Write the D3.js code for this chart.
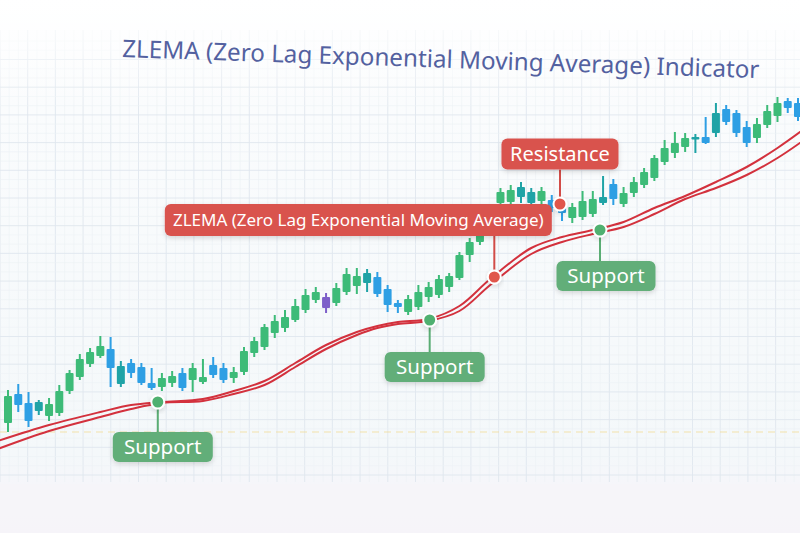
<!DOCTYPE html>
<html><head><meta charset="utf-8">
<script src="https://cdn.jsdelivr.net/npm/d3@7"></script>
<style>html,body{margin:0;padding:0;background:#f5f8fb;}svg{display:block}</style>
</head><body><svg id="c" width="800" height="533"></svg>
<script>
// ---------- DATA ----------
const candleOpen = [7.7,10.6,9.7,8.9,8.4,8.7,10.9,12.3,13.6,14.4, 15.1,13.4,13.7,13.3,11.7,11.3,11.7,12.7,12.0,11.8, 13.5,13.2,12.2,12.8,14.7,15.3,16.7,17.2,18.0,19.0, 20.0,20.3,19.7,20.8,21.4,22.7,22.3,21.1,19.7,18.8, 19.3,20.3,20.5,21.3,22.2,24.5,25.8,26.8,29.7,29.8, 30.3,30.8,29.9,30.0,29.4,28.2,28.3,28.6,30.3,31.6, 29.6,30.7,31.5,32.2,33.8,34.7,35.3,36.1,36.3,36.7, 39.1,38.7,37.3,36.2,37.5,38.4,39.9,39.7];
const candleHigh = [11.0,11.6,10.8,10.0,10.2,11.5,13.0,14.6,15.2,16.4, 16.3,13.9,14.1,13.7,13.2,12.7,12.9,13.2,13.7,14.1, 14.3,13.7,13.3,15.3,16.3,17.6,18.5,19.0,20.1,21.1, 21.3,20.7,21.7,23.2,23.2,23.1,22.8,21.5,20.0,20.5, 21.5,21.8,22.5,22.7,24.8,26.2,26.8,29.0,31.2,31.5, 31.8,31.2,31.3,30.5,30.0,29.7,30.9,30.9,32.4,32.1, 31.3,32.3,33.2,34.5,36.0,36.8,36.7,36.6,38.3,39.7, 39.5,39.0,37.9,38.2,39.5,40.3,40.2,40.2];
const candleLow = [6.8,8.8,7.3,8.5,7.9,8.4,10.6,12.0,13.3,14.2, 11.3,11.3,12.2,11.5,11.0,10.9,11.3,10.9,10.8,11.6, 12.2,11.7,11.7,12.5,14.3,15.0,16.2,16.8,17.8,18.7, 19.7,18.7,19.4,20.5,20.6,20.8,20.3,18.8,18.7,18.5, 19.0,19.8,20.2,20.8,22.0,23.8,25.5,26.4,29.5,29.6, 29.7,29.3,29.5,28.8,27.9,27.7,28.0,28.3,29.5,29.5, 29.3,30.3,31.2,31.9,33.5,34.2,34.8,34.7,35.6,36.3, 37.5,36.3,35.3,35.7,37.2,37.8,38.7,37.9];
const candleClose = [10.4,9.5,7.9,9.8,9.6,10.9,12.7,14.1,14.8,15.4, 13.2,11.6,12.7,11.7,11.2,12.2,12.4,11.2,13.2,12.3, 12.5,12.0,12.8,14.9,15.9,17.3,17.9,18.3,19.4,20.5, 20.8,19.2,21.2,22.6,22.4,21.7,20.6,19.5,19.3,20.1, 20.8,21.3,22.1,22.4,24.5,25.8,26.5,28.5,30.8,31.0, 31.3,29.7,30.9,29.2,28.7,29.3,29.9,30.1,29.7,30.1, 30.7,31.8,32.8,34.2,35.2,35.7,36.2,36.3,35.7,38.7, 37.8,36.7,35.7,37.6,38.9,39.7,39.2,38.3];
const candleTone = ['up','down','down','mid','up','up','up','up','up','up', 'down','mid','down','down','down','up','up','down','up','up', 'down','down','up','up','up','up','up','up','up','up', 'up','mark','up','up','up','mid','down','down','down','up', 'up','up','up','up','up','up','up','up','up','up', 'mid','mid','up','down','down','up','up','up','mid','down', 'up','up','up','up','up','up','up','mid','down','mid', 'down','down','down','up','up','up','down','down'];

const zlemaIndex = [-1,4,9,12,15,19,22,25,28,31,34,36,38,41,44,47,51,54,57,60,63,66,69,72,75,78];
const zlemaUpper = [5.9,7.5,8.8,9.5,9.8,10.1,10.9,11.9,13.7,15.5,16.8,17.4,17.8,18.1,19.4,22.1,25.2,26.3,27.0,27.8,29.2,30.4,31.8,33.3,35.2,37.4];
const zlemaLower = [5.1,6.9,8.3,9.1,9.7,9.9,10.6,11.5,13.3,15.1,16.5,17.2,17.6,17.9,18.9,21.5,24.6,25.8,26.6,27.3,28.6,30.1,31.2,32.5,34.2,36.3];

const annoIndex = [14.6, 41.1, 47.4, 53.8, 57.7];
const annoValue = [9.8, 18.0, 22.3, 29.6, 27.0];
const annoText = ["Support","Support","ZLEMA (Zero Lag Exponential Moving Average)","Resistance","Support"];
const annoKind = ["support","support","zlema","resistance","support"];

const titleText = "ZLEMA (Zero Lag Exponential Moving Average) Indicator";

// ---------- LAYOUT / STYLE ----------
const W = 800, H = 533;
const x = d3.scaleLinear().domain([0, 77]).range([8, 798]);
const y = d3.scaleLinear().domain([0, 50]).range([500, 0]);
const toneColor = {up:'#3dbb78', down:'#2e9fe4', mid:'#1fa3a6', mark:'#7d5fc9'};
const labelLayout = [
  {dx:5, dy:45, w:100, h:30, fs:20.5},
  {dx:5, dy:47, w:100, h:30, fs:20.5},
  {dx:-136, dy:-57, w:387, h:32, fs:17},
  {dx:0, dy:-50, w:117, h:31, fs:20},
  {dx:6, dy:46, w:99, h:30, fs:20.5}
];
const kindFill = {support:'#62ae79', zlema:'#d9524e', resistance:'#d9524e'};
const dotFill = {support:'#4fb06f', zlema:'#e0564c', resistance:'#e0564c'};

const svg = d3.select('#c');
const defs = svg.append('defs');
const bg = defs.append('linearGradient').attr('id','bg').attr('x1',0).attr('x2',0).attr('y1',0).attr('y2',1);
bg.append('stop').attr('offset','0%').attr('stop-color','#fcfdfe');
bg.append('stop').attr('offset','85%').attr('stop-color','#f4f8fa');
bg.append('stop').attr('offset','93%').attr('stop-color','#f6f5fa');
bg.append('stop').attr('offset','100%').attr('stop-color','#f4f3f8');
const fade = defs.append('linearGradient').attr('id','fade').attr('x1',0).attr('x2',0).attr('y1',0).attr('y2',1);
fade.append('stop').attr('offset','0%').attr('stop-color','#ffffff').attr('stop-opacity',0.95);
fade.append('stop').attr('offset','100%').attr('stop-color','#ffffff').attr('stop-opacity',0);
const sh = defs.append('filter').attr('id','sh').attr('x','-20%').attr('y','-40%').attr('width','140%').attr('height','180%');
sh.append('feDropShadow').attr('dx',0).attr('dy',2).attr('stdDeviation',2.5).attr('flood-color','#000').attr('flood-opacity',0.15);

svg.append('rect').attr('width',W).attr('height',H).attr('fill','url(#bg)');

// grid
const grid = svg.append('g');
d3.range(0, 88).forEach(k => {
  const xx = k * 27.7/3;
  grid.append('line').attr('x1',xx).attr('x2',xx).attr('y1',30).attr('y2',482)
    .attr('stroke', k%3===0 ? '#e0e7ee' : '#edf1f5').attr('stroke-width', k%3===0 ? 0.9 : 0.6);
});
d3.range(0, 48).forEach(k => {
  const yy = 475 - k * 27.7/3;
  if (yy < 30) return;
  grid.append('line').attr('x1',0).attr('x2',W).attr('y1',yy).attr('y2',yy)
    .attr('stroke', k%3===0 ? '#e0e7ee' : '#edf1f5').attr('stroke-width', k%3===0 ? 0.9 : 0.6);
});
svg.append('rect').attr('x',0).attr('y',0).attr('width',W).attr('height',110).attr('fill','url(#fade)');
svg.append('rect').attr('x',0).attr('y',484).attr('width',W).attr('height',49).attr('fill','#f5f4f9').attr('opacity',0.92);

// dashed yellow line
svg.append('line').attr('x1',0).attr('x2',W).attr('y1',432).attr('y2',432)
  .attr('stroke','#f1dc95').attr('stroke-width',1.2).attr('stroke-dasharray','7 5').attr('opacity',0.8);

// title
const title = svg.append('text').text(titleText)
  .attr('font-family','Noto Sans, Open Sans, sans-serif').attr('font-size',24)
  .attr('fill','#5361a0');
const tl = title.node().getComputedTextLength();
const fsT = 24 * 638 / tl;
title.attr('font-size', fsT).attr('transform','translate(122,57) rotate(1.9)');

// candles
const cw = 8;
const cg = svg.append('g');
candleOpen.forEach((o,i) => {
  const c = candleClose[i], col = toneColor[candleTone[i]];
  const cx = x(i);
  cg.append('line').attr('x1',cx).attr('x2',cx).attr('y1',y(candleHigh[i])).attr('y2',y(candleLow[i]))
    .attr('stroke',col).attr('stroke-width',2);
  const top = y(Math.max(o,c)), bot = y(Math.min(o,c));
  cg.append('rect').attr('x',cx-cw/2).attr('y',top).attr('width',cw).attr('height',Math.max(2.5,bot-top))
    .attr('fill',col).attr('rx',1);
});

// zlema lines
const line = d3.line().x(d=>x(d[0])).y(d=>y(d[1])).curve(d3.curveCatmullRom.alpha(0.5));
svg.append('path').datum(zlemaIndex.map((k,i)=>[k,zlemaUpper[i]])).attr('d',line)
  .attr('fill','none').attr('stroke','#d3313d').attr('stroke-width',2);
svg.append('path').datum(zlemaIndex.map((k,i)=>[k,zlemaLower[i]])).attr('d',line)
  .attr('fill','none').attr('stroke','#d3313d').attr('stroke-width',2);

// annotations
const ag = svg.append('g');
annoIndex.forEach((k,i) => {
  const px = x(k), py = y(annoValue[i]);
  const L = labelLayout[i], kind = annoKind[i];
  const bx = px + L.dx, by = py + L.dy;
  const connEnd = L.dy > 0 ? by - L.h/2 : by + L.h/2;
  ag.append('line').attr('x1',px).attr('x2',px).attr('y1',py).attr('y2',connEnd)
    .attr('stroke', kind==='support' ? '#5aad74' : '#d24c48').attr('stroke-width',2);
  ag.append('rect').attr('x',bx-L.w/2).attr('y',by-L.h/2).attr('width',L.w).attr('height',L.h)
    .attr('rx',6).attr('fill',kindFill[kind]).attr('filter','url(#sh)');
  ag.append('text').attr('x',bx).attr('y',by).attr('dy','0.35em').attr('text-anchor','middle')
    .attr('font-family','Noto Sans, Open Sans, sans-serif').attr('font-size',L.fs)
    .attr('fill','#ffffff').text(annoText[i]);
  ag.append('circle').attr('cx',px).attr('cy',py).attr('r',6.5)
    .attr('fill',dotFill[kind]).attr('stroke','#ffffff').attr('stroke-width',2).attr('filter','url(#sh)');
});
</script></body></html>
